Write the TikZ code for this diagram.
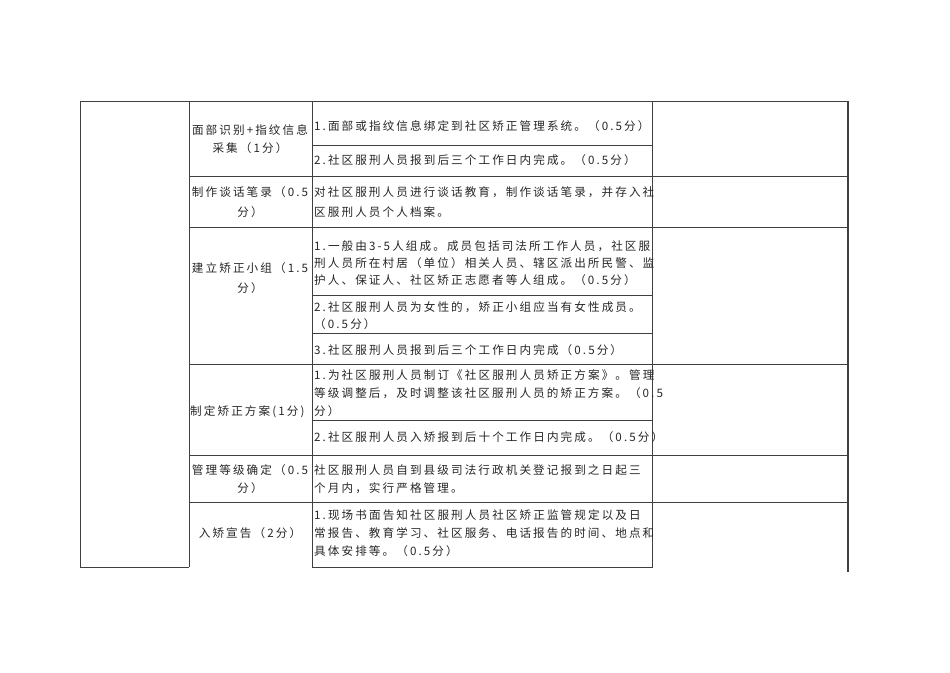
\documentclass[tikz,border=0pt]{standalone}
\usepackage{fontspec}
\newfontfamily\cjk[LetterSpace=18]{Noto Sans CJK SC}
\begin{document}
\begin{tikzpicture}[x=1pt,y=-1pt,
  grid/.style={draw=black!75,line width=0.8pt},
  tl/.style={font=\cjk\fontsize{11.6}{12}\selectfont,inner sep=0pt,anchor=west,text=black!85},
  tc/.style={font=\cjk\fontsize{11.6}{12}\selectfont,inner sep=0pt,anchor=center,text=black!85}]
\useasboundingbox (0,0) rectangle (950,672);
% outer lines
\draw[grid] (80,101) -- (848,101);
\draw[grid] (80,101) -- (80,567) -- (189,567);
\draw[grid] (189,101) -- (189,567);
\draw[grid] (312,101) -- (312,567) -- (652,567) -- (652,101);
\draw[grid,line width=1.2pt] (848,101) -- (848,572);
% main row lines
\foreach \y in {176,227,364,455,502}{\draw[grid] (189,\y) -- (848,\y);}
% sub row lines
\foreach \y in {145,295,333,420}{\draw[grid] (312,\y) -- (652,\y);}
% column 2 labels
\node[tc] (a1) at (250,130) {面部识别+指纹信息};
\node[tc] (a2) at (250,148) {采集（1分）};
\node[tc] (b1) at (250,192) {制作谈话笔录（0.5};
\node[tc] (b2) at (250,212) {分）};
\node[tc] (c1) at (250,268) {建立矫正小组（1.5};
\node[tc] (c2) at (250,288) {分）};
\node[tl] (d1) at (190,412) {制定矫正方案(1分)};
\node[tc] (e1) at (250,470) {管理等级确定（0.5};
\node[tc] (e2) at (250,488) {分）};
\node[tc] (f1) at (250,533) {入矫宣告（2分）};
% column 3 texts
\node[tl] (p1) at (314,126) {1.面部或指纹信息绑定到社区矫正管理系统。（0.5分）};
\node[tl] (p2) at (314,160) {2.社区服刑人员报到后三个工作日内完成。（0.5分）};
\node[tl] (q1) at (314,192) {对社区服刑人员进行谈话教育，制作谈话笔录，并存入社};
\node[tl] (q2) at (314,212) {区服刑人员个人档案。};
\node[tl] (r1) at (314,246) {1.一般由3-5人组成。成员包括司法所工作人员，社区服};
\node[tl] (r2) at (314,263) {刑人员所在村居（单位）相关人员、辖区派出所民警、监};
\node[tl] (r3) at (314,280) {护人、保证人、社区矫正志愿者等人组成。（0.5分）};
\node[tl] (r4) at (314,307) {2.社区服刑人员为女性的，矫正小组应当有女性成员。};
\node[tl] (r5) at (314,324) {（0.5分）};
\node[tl] (r6) at (314,350) {3.社区服刑人员报到后三个工作日内完成（0.5分）};
\node[tl] (s1) at (314,375) {1.为社区服刑人员制订《社区服刑人员矫正方案》。管理};
\node[tl] (s2) at (314,393) {等级调整后，及时调整该社区服刑人员的矫正方案。（0.5};
\node[tl] (s3) at (314,411) {分）};
\node[tl] (s4) at (314,437) {2.社区服刑人员入矫报到后十个工作日内完成。（0.5分）};
\node[tl] (t1) at (314,470) {社区服刑人员自到县级司法行政机关登记报到之日起三};
\node[tl] (t2) at (314,488) {个月内，实行严格管理。};
\node[tl] (u1) at (314,515) {1.现场书面告知社区服刑人员社区矫正监管规定以及日};
\node[tl] (u2) at (314,533) {常报告、教育学习、社区服务、电话报告的时间、地点和};
\node[tl] (u3) at (314,551) {具体安排等。（0.5分）};
\end{tikzpicture}
\end{document}
